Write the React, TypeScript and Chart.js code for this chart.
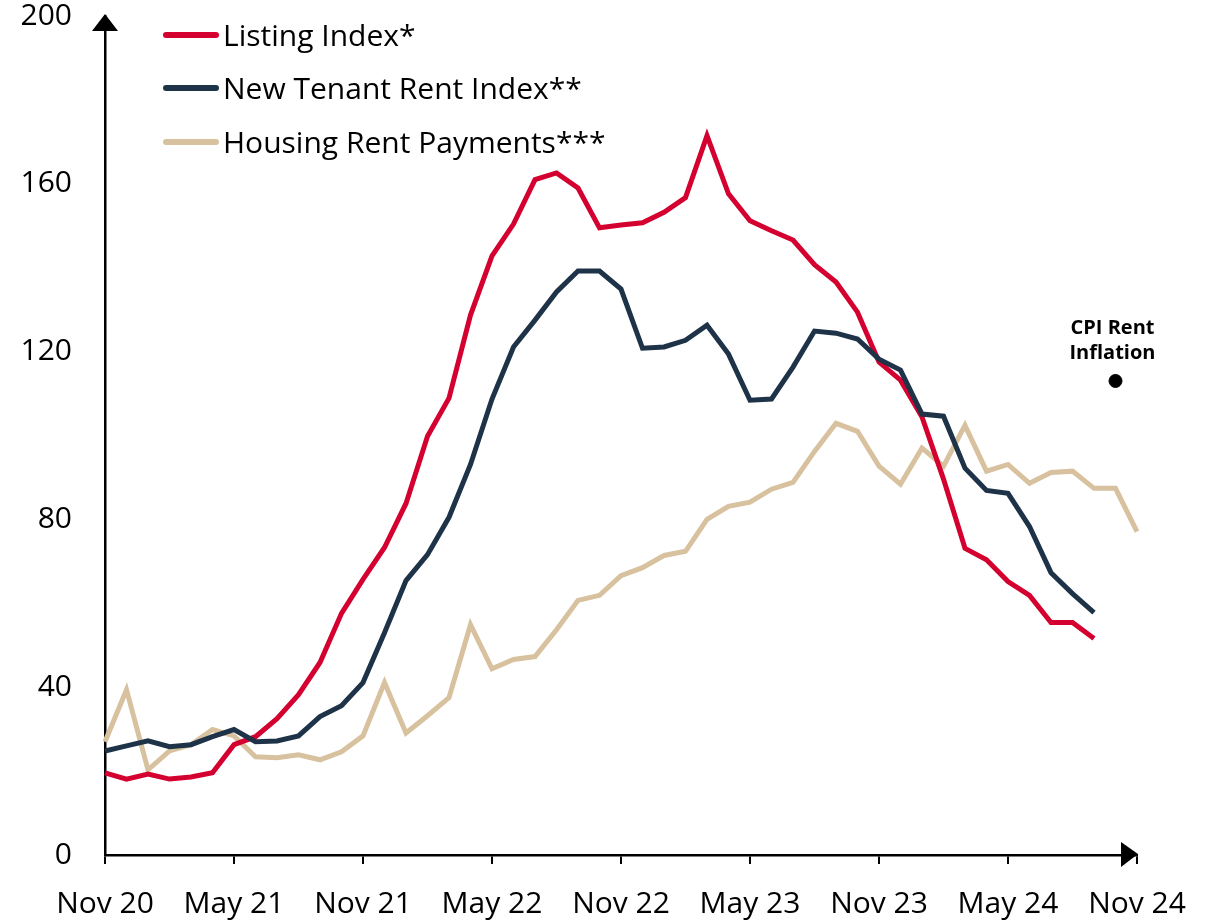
import React, { useEffect, useRef } from "react";
import { Chart, registerables } from "chart.js";

Chart.register(...registerables);

const months = [
  "Nov 20", "Dec 20", "Jan 21", "Feb 21", "Mar 21", "Apr 21", "May 21", "Jun 21", "Jul 21", "Aug 21", "Sep 21", "Oct 21",
  "Nov 21", "Dec 21", "Jan 22", "Feb 22", "Mar 22", "Apr 22", "May 22", "Jun 22", "Jul 22", "Aug 22", "Sep 22", "Oct 22",
  "Nov 22", "Dec 22", "Jan 23", "Feb 23", "Mar 23", "Apr 23", "May 23", "Jun 23", "Jul 23", "Aug 23", "Sep 23", "Oct 23",
  "Nov 23", "Dec 23", "Jan 24", "Feb 24", "Mar 24", "Apr 24", "May 24", "Jun 24", "Jul 24", "Aug 24", "Sep 24", "Oct 24",
  "Nov 24",
];

const listingIndex = [
  19.6, 18.1, 19.3, 18.1, 18.6, 19.6, 26.3, 28.2, 32.5, 38.2, 45.9, 57.6,
  65.7, 73.3, 83.8, 99.8, 108.9, 128.7, 142.8, 150.4, 161.0, 162.6, 159.0, 149.5,
  150.2, 150.7, 153.2, 156.7, 171.5, 157.6, 151.2, 148.8, 146.6, 140.7, 136.6, 129.4,
  117.5, 113.2, 104.4, 89.6, 73.1, 70.4, 65.2, 61.9, 55.4, 55.4, 51.6,
];

const newTenantRentIndex = [
  24.8, 26.0, 27.2, 25.8, 26.3, 28.2, 29.9, 27.0, 27.2, 28.4, 33.0, 35.6,
  41.1, 53.0, 65.4, 71.6, 80.5, 93.1, 108.7, 121.1, 127.5, 134.2, 139.2, 139.2,
  134.9, 120.8, 121.1, 122.7, 126.3, 119.4, 108.4, 108.7, 116.3, 124.9, 124.4, 123.0,
  118.2, 115.6, 105.1, 104.6, 92.2, 86.9, 86.2, 78.3, 67.3, 62.3, 57.8,
];

const housingRentPayments = [
  27.0, 39.4, 20.3, 24.8, 26.3, 29.9, 28.4, 23.4, 23.2, 23.9, 22.7, 24.6,
  28.4, 41.1, 29.1, 33.2, 37.5, 54.9, 44.4, 46.6, 47.3, 53.7, 60.7, 61.9,
  66.6, 68.5, 71.4, 72.4, 80.0, 83.1, 84.1, 87.2, 88.8, 96.2, 102.9, 101.0,
  92.7, 88.4, 97.0, 92.7, 102.4, 91.5, 93.1, 88.6, 91.2, 91.5, 87.4, 87.4,
  77.1,
];

const cpiMonth = "Oct 24";
const cpiRentInflation = 113;

const yTickValues = [0, 40, 80, 120, 160, 200];
const xTickEvery = 6;

const seriesLabels = ["Listing Index*", "New Tenant Rent Index**", "Housing Rent Payments***"];
const seriesColors = ["#D4002F", "#1E3248", "#D8C19E"];
const cpiLabel = ["CPI Rent", "Inflation"];

const FONT = "'Open Sans', 'Noto Sans', sans-serif";

const decorPlugin = {
  id: "decor",
  afterDraw(chart: any) {
    const { ctx, chartArea: a } = chart;
    ctx.save();
    // axis arrows
    ctx.fillStyle = "#000";
    ctx.beginPath();
    ctx.moveTo(a.left, a.top - 2);
    ctx.lineTo(a.left - 13, a.top + 15);
    ctx.lineTo(a.left + 13, a.top + 15);
    ctx.closePath();
    ctx.fill();

    ctx.beginPath();
    ctx.moveTo(a.right + 1, a.bottom - 1);
    ctx.lineTo(a.right - 16, a.bottom - 13);
    ctx.lineTo(a.right - 16, a.bottom + 12);
    ctx.closePath();
    ctx.fill();

    // legend
    const rows = [35, 88, 142];
    for (let i = 0; i < 3; i++) {
      const ds = chart.data.datasets[i];
      ctx.strokeStyle = ds.borderColor;
      ctx.lineWidth = 6;
      ctx.lineCap = "round";
      ctx.beginPath();
      ctx.moveTo(166, rows[i]);
      ctx.lineTo(216, rows[i]);
      ctx.stroke();
      ctx.fillStyle = "#000";
      ctx.font = `30px ${FONT}`;
      ctx.textAlign = "left";
      ctx.textBaseline = "alphabetic";
      ctx.fillText(ds.label, 223, rows[i] + 11);
    }

    // CPI label above its point
    const meta = chart.getDatasetMeta(3);
    const idx = months.indexOf(cpiMonth);
    const pt = meta.data[idx];
    if (pt) {
      ctx.fillStyle = "#000";
      ctx.font = `bold 20px ${FONT}`;
      ctx.textAlign = "center";
      ctx.textBaseline = "alphabetic";
      ctx.fillText(cpiLabel[0], pt.x - 3, pt.y - 47);
      ctx.fillText(cpiLabel[1], pt.x - 3, pt.y - 22);
    }
    ctx.restore();
  },
};

export default function App() {
  const ref = useRef<HTMLCanvasElement | null>(null);

  useEffect(() => {
    if (!ref.current) return;
    const tickFont = { family: FONT, size: 30 };
    const chart = new Chart(ref.current, {
      type: "line",
      data: {
        labels: months,
        datasets: [
          {
            label: seriesLabels[0],
            data: listingIndex,
            borderColor: seriesColors[0],
            borderWidth: 5,
            pointRadius: 0,
            tension: 0,
            order: 2,
          },
          {
            label: seriesLabels[1],
            data: newTenantRentIndex,
            borderColor: seriesColors[1],
            borderWidth: 5,
            pointRadius: 0,
            tension: 0,
            order: 1,
          },
          {
            label: seriesLabels[2],
            data: housingRentPayments,
            borderColor: seriesColors[2],
            borderWidth: 5,
            pointRadius: 0,
            tension: 0,
            order: 3,
          },
          {
            label: "CPI Rent Inflation",
            data: months.map((m) => (m === cpiMonth ? cpiRentInflation : null)),
            showLine: false,
            pointRadius: 6.5,
            pointBackgroundColor: "#000",
            pointBorderColor: "#000",
            borderColor: "#000",
            order: 0,
          },
        ],
      },
      options: {
        responsive: false,
        animation: false,
        events: [],
        layout: { padding: { top: 16, right: 80, left: 0, bottom: 0 } },
        plugins: { legend: { display: false }, tooltip: { enabled: false } },
        scales: {
          x: {
            type: "category",
            offset: false,
            border: { color: "#000", width: 2.5 },
            grid: {
              drawOnChartArea: false,
              drawTicks: true,
              tickLength: 9,
              lineWidth: 2,
              color: (c: any) => (c.index % xTickEvery === 0 ? "#000" : "rgba(0,0,0,0)"),
            },
            ticks: {
              autoSkip: false,
              maxRotation: 0,
              minRotation: 0,
              padding: 22,
              color: "#000",
              font: tickFont,
              callback: function (this: any, v: any, i: number) {
                return i % xTickEvery === 0 ? this.getLabelForValue(v) : "";
              },
            },
            afterFit: (s: any) => {
              s.height = 68;
              s.paddingLeft = 0;
              s.paddingRight = 0;
            },
          },
          y: {
            min: 0,
            max: 200,
            border: { color: "#000", width: 2.5 },
            grid: { display: false, drawTicks: false },
            ticks: { padding: 33, color: "#000", font: tickFont },
            afterBuildTicks: (s: any) => {
              s.ticks = yTickValues.map((v) => ({ value: v }));
            },
            afterFit: (s: any) => {
              s.width = 105;
              s.paddingTop = 0;
              s.paddingBottom = 0;
            },
          },
        },
      },
      plugins: [decorPlugin],
    });
    return () => chart.destroy();
  }, []);

  return (
    <div style={{ position: "absolute", left: 0, top: 0, width: 1217, height: 923, background: "#fff" }}>
      <canvas ref={ref} width={1217} height={923} />
    </div>
  );
}
